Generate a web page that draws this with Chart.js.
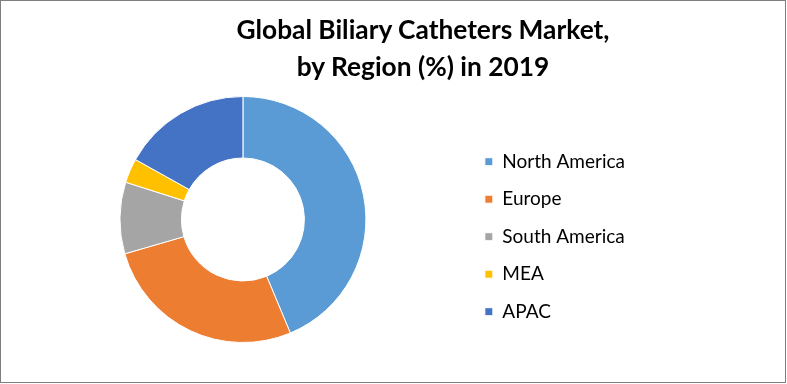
<!DOCTYPE html>
<html>
<head>
<meta charset="utf-8">
<script src="https://cdn.jsdelivr.net/npm/chart.js@4.4.1/dist/chart.umd.min.js"></script>
<style>
  html, body { margin: 0; padding: 0; background: #fff; }
  #wrap { position: relative; width: 787px; height: 384px; }
  #frame { position: absolute; left: 0; top: 0; width: 786px; height: 383px; box-sizing: border-box; border: 1px solid #7f7f7f; pointer-events: none; }
  #titulo { position: absolute; left: 173px; width: 500px; top: 11px; text-align: center; font-family: Lato, sans-serif; font-weight: bold; font-size: 26.3px; line-height: 37px; color: #000; }
  canvas { position: absolute; left: 0; top: 0; }
</style>
</head>
<body>
<div id="wrap">
  <canvas id="donut-chart" width="787" height="384"></canvas>
  <div id="titulo">Global Biliary Catheters Market,<br>by Region (%) in 2019</div>
  <div id="frame"></div>
</div>
<script>
let regiones = ['North America', 'Europe', 'South America', 'MEA', 'APAC'];
let porcentajes = [43.7, 26.8, 9.4, 3.2, 16.9];
let colores = ['#5B9BD5', '#ED7D31', '#A5A5A5', '#FFC000', '#4472C4'];

new Chart(document.getElementById("donut-chart"), {
    type: 'doughnut',
    data: {
        labels: regiones,
        datasets: [{
            data: porcentajes,
            backgroundColor: colores,
            borderColor: '#ffffff',
            borderWidth: 1
        }]
    },
    options: {
        responsive: false,
        animation: false,
        cutout: '50%',
        layout: {
            padding: { left: 19.5, top: 96, right: 152, bottom: 41 }
        },
        plugins: {
            tooltip: { enabled: false },
            legend: {
                position: 'right',
                fullSize: false,
                title: {
                    display: true,
                    text: '',
                    font: { size: 12 },
                    padding: 10
                },
                labels: {
                    boxWidth: 8,
                    boxHeight: 8,
                    padding: 18.5,
                    color: '#000',
                    font: { family: 'Lato', size: 19 }
                }
            }
        }
    }
});
</script>
</body>
</html>
